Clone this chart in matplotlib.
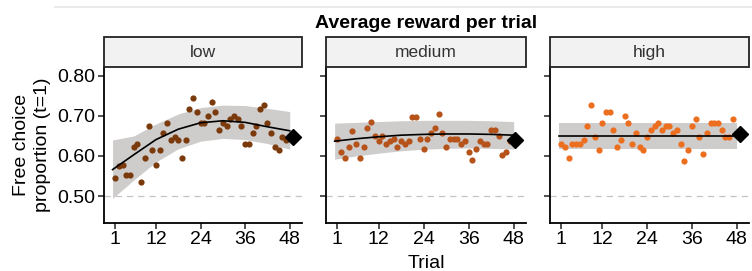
import matplotlib
matplotlib.use("Agg")
import matplotlib.pyplot as plt
from matplotlib.lines import Line2D
from matplotlib.patches import Rectangle

plt.rcParams["font.family"] = ["Liberation Sans", "DejaVu Sans"]

# Observed free-choice proportion per trial (trials 1..47)
TRIALS = list(range(1, 48))
LOW = [0.544, 0.575, 0.578, 0.553, 0.553, 0.622, 0.630, 0.535, 0.596, 0.674,
       0.614, 0.578, 0.614, 0.657, 0.683, 0.639, 0.648, 0.639, 0.596, 0.639,
       0.718, 0.744, 0.709, 0.683, 0.683, 0.700, 0.735, 0.709, 0.666, 0.683,
       0.674, 0.692, 0.700, 0.692, 0.674, 0.631, 0.631, 0.657, 0.674, 0.718,
       0.727, 0.683, 0.657, 0.623, 0.614, 0.648, 0.640]
MEDIUM = [0.643, 0.609, 0.596, 0.623, 0.663, 0.630, 0.596, 0.623, 0.671, 0.684,
          0.650, 0.637, 0.650, 0.630, 0.637, 0.643, 0.623, 0.637, 0.630, 0.637,
          0.698, 0.698, 0.643, 0.617, 0.643, 0.658, 0.671, 0.705, 0.658, 0.623,
          0.643, 0.643, 0.643, 0.630, 0.637, 0.609, 0.589, 0.617, 0.637, 0.630,
          0.630, 0.664, 0.664, 0.650, 0.603, 0.609, 0.637]
HIGH = [0.631, 0.622, 0.596, 0.631, 0.631, 0.631, 0.639, 0.674, 0.727, 0.648,
        0.614, 0.683, 0.709, 0.709, 0.665, 0.622, 0.639, 0.700, 0.683, 0.631,
        0.657, 0.622, 0.614, 0.648, 0.665, 0.674, 0.683, 0.665, 0.674, 0.674,
        0.657, 0.665, 0.631, 0.588, 0.614, 0.674, 0.692, 0.648, 0.605, 0.657,
        0.683, 0.683, 0.683, 0.665, 0.648, 0.648, 0.692]

# Smooth fit and its confidence band, read at a few trials
FIT_T = [0.3, 6, 12, 18, 24, 30, 36, 42, 48]
LOW_FIT = [0.566, 0.603, 0.641, 0.667, 0.683, 0.688, 0.684, 0.673, 0.663]
LOW_UP = [0.640, 0.650, 0.680, 0.705, 0.721, 0.727, 0.726, 0.719, 0.711]
LOW_LO = [0.494, 0.540, 0.585, 0.618, 0.637, 0.644, 0.641, 0.631, 0.617]
MED_FIT = [0.637, 0.643, 0.648, 0.652, 0.654, 0.655, 0.655, 0.654, 0.652]
MED_UP = [0.682, 0.684, 0.686, 0.688, 0.689, 0.689, 0.689, 0.688, 0.686]
MED_LO = [0.592, 0.600, 0.607, 0.613, 0.617, 0.619, 0.620, 0.619, 0.617]
HIGH_FIT = [0.650] * 9
HIGH_UP = [0.682] * 9
HIGH_LO = [0.618] * 9

# Last-trial summary marker
DIAMOND_T = [48.9, 48.4, 48.8]
DIAMOND_Y = [0.648, 0.640, 0.655]

PANELS = ["low", "medium", "high"]
COLORS = ["#7a3a0c", "#b5531a", "#ec6f20"]
XTICKS = [1, 12, 24, 36, 48]
YTICKS = [0.50, 0.60, 0.70, 0.80]

series = [
    (LOW, LOW_FIT, LOW_UP, LOW_LO),
    (MEDIUM, MED_FIT, MED_UP, MED_LO),
    (HIGH, HIGH_FIT, HIGH_UP, HIGH_LO),
]

fig = plt.figure(figsize=(7.52, 2.71), dpi=100)
lefts = [0.1383, 0.4335, 0.7314]
widths = [0.2633, 0.2660, 0.2646]
bottom, height = 0.177, 0.576
strip_h = 0.111

for i, (name, (pts, fit, up, lo)) in enumerate(zip(PANELS, series)):
    ax = fig.add_axes([lefts[i], bottom, widths[i], height])
    ax.fill_between(FIT_T, lo, up, color="#cfcccc", lw=0, zorder=1)
    ax.axhline(0.5, color="#c4c4c4", lw=0.9, ls=(0, (5, 4)), zorder=0)
    ax.scatter(TRIALS, pts, s=20, color=COLORS[i], lw=0, zorder=3)
    ax.plot(FIT_T, fit, color="black", lw=1.2, zorder=4)
    ax.plot(DIAMOND_T[i], DIAMOND_Y[i], marker="D", ms=8.5, color="black", zorder=5, clip_on=False)

    ax.set_xlim(-2.0, 51.3)
    ax.set_ylim(0.4325, 0.8225)
    ax.set_xticks(XTICKS)
    ax.set_yticks(YTICKS)
    ax.tick_params(axis="both", labelsize=14, length=4, width=1.1, color="#222222", pad=2)
    if i == 0:
        ax.set_yticklabels([f"{v:.2f}" for v in YTICKS])
        ax.set_ylabel("Free choice\nproportion (t=1)", fontsize=14, linespacing=1.25, labelpad=5)
    else:
        ax.set_yticklabels([])
    if i == 1:
        ax.set_xlabel("Trial", fontsize=14, labelpad=5)
    for s in ["top", "right"]:
        ax.spines[s].set_visible(False)
    for s in ["left", "bottom"]:
        ax.spines[s].set_linewidth(1.3)

    # facet strip
    sax = fig.add_axes([lefts[i], bottom + height, widths[i], strip_h])
    sax.add_patch(Rectangle((0, 0), 1, 1, facecolor="#f2f2f2", edgecolor="#222222", lw=1.3,
                            transform=sax.transAxes, clip_on=False))
    sax.text(0.5, 0.48, name, ha="center", va="center", fontsize=12.5, color="#333333")
    sax.set_axis_off()

fig.text(0.566, 0.912, "Average reward per trial", ha="center", va="center",
         fontsize=14, fontweight="bold")
fig.add_artist(Line2D([0.073, 1.0], [0.974, 0.974], color="#e6e6e6", lw=1.2))

fig.savefig("out.png", dpi=100)
